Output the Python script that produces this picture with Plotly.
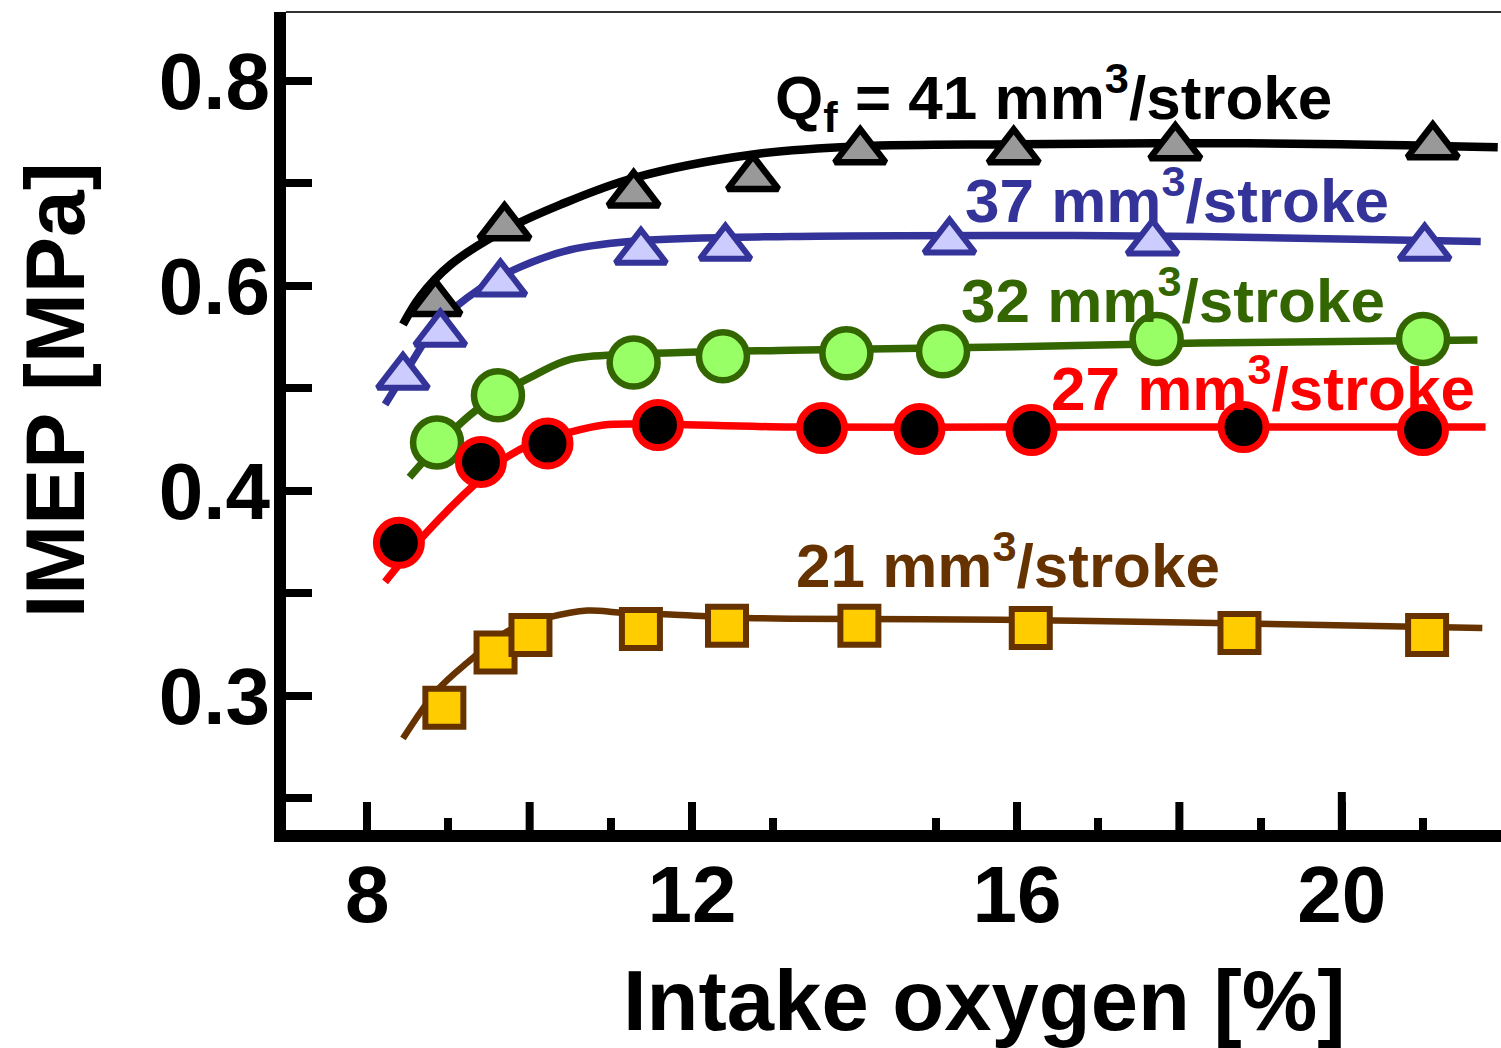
import plotly.graph_objects as go

# Measured IMEP versus intake oxygen for five fuel quantities
o2_41 = [8.84, 9.69, 11.28, 12.75, 14.07, 15.96, 17.95, 21.12]
imep_41 = [0.583, 0.657, 0.689, 0.705, 0.731, 0.731, 0.735, 0.736]

o2_37 = [8.44, 8.90, 9.64, 11.37, 12.41, 15.17, 17.67, 21.02]
imep_37 = [0.511, 0.553, 0.602, 0.633, 0.637, 0.643, 0.642, 0.637]

o2_32 = [8.86, 9.61, 11.28, 12.38, 13.90, 15.09, 17.72, 21.00]
imep_32 = [0.447, 0.493, 0.525, 0.531, 0.534, 0.536, 0.548, 0.548]

o2_27 = [8.39, 9.40, 10.22, 11.58, 13.60, 14.80, 16.18, 18.79, 21.00]
imep_27 = [0.349, 0.428, 0.446, 0.464, 0.461, 0.460, 0.459, 0.462, 0.459]

o2_21 = [8.95, 9.58, 10.01, 11.37, 12.43, 14.06, 16.17, 18.74, 21.05]
imep_21 = [0.188, 0.242, 0.259, 0.265, 0.268, 0.268, 0.266, 0.261, 0.259]

# Smoothed trend curves drawn through each data set
fit_x_41 = [8.44, 8.65, 9.02, 9.69, 10.38, 11.28, 12.75, 14.07, 15.96, 17.95, 19.98, 21.92]
fit_y_41 = [0.562, 0.589, 0.620, 0.654, 0.679, 0.705, 0.728, 0.736, 0.738, 0.739, 0.738, 0.735]

fit_x_37 = [8.22, 8.53, 8.86, 9.39, 9.88, 10.50, 11.37, 13.21, 15.80, 18.26, 21.71]
fit_y_37 = [0.484, 0.523, 0.562, 0.597, 0.618, 0.635, 0.644, 0.648, 0.649, 0.648, 0.643]

fit_x_32 = [8.52, 8.86, 9.27, 9.61, 10.07, 10.50, 11.28, 13.21, 15.80, 18.26, 21.67]
fit_y_32 = [0.413, 0.443, 0.474, 0.493, 0.513, 0.528, 0.533, 0.537, 0.540, 0.544, 0.547]

fit_x_27 = [8.22, 8.65, 9.02, 9.35, 9.67, 10.01, 10.50, 10.91, 11.36, 13.21, 15.80, 18.26, 21.77]
fit_y_27 = [0.311, 0.352, 0.383, 0.408, 0.430, 0.445, 0.457, 0.464, 0.465, 0.462, 0.462, 0.462, 0.462]

fit_x_21 = [8.44, 8.86, 9.23, 9.76, 10.22, 10.71, 11.12, 11.73, 12.56, 13.21, 15.80, 18.26, 21.73]
fit_y_21 = [0.158, 0.205, 0.232, 0.264, 0.276, 0.283, 0.281, 0.279, 0.276, 0.275, 0.274, 0.271, 0.266]

# Axis ticks
x_labelled = [8, 12, 16, 20]
x_long_unlabelled = [10, 18]
x_minor = [9, 11, 13, 15, 17, 19, 21]
y_labelled = [0.2, 0.4, 0.6, 0.8]
y_label_text = ["0.3", "0.4", "0.6", "0.8"]
y_minor = [0.1, 0.3, 0.5, 0.7]

FONT = "Liberation Sans, Arial, sans-serif"
PLOT_H = 818  # plot area height in px, used for tick-length shapes

series = [
    # x, y, fit x, fit y, symbol, size, fill, edge, edge width, line width
    (o2_41, imep_41, fit_x_41, fit_y_41, "triangle-up", 44, "#999999", "#000000", 6.5, 8.5),
    (o2_37, imep_37, fit_x_37, fit_y_37, "triangle-up", 44, "#CCCCFF", "#333399", 6, 7.5),
    (o2_32, imep_32, fit_x_32, fit_y_32, "circle", 48, "#99FF66", "#336600", 6.5, 7.5),
    (o2_27, imep_27, fit_x_27, fit_y_27, "circle", 45, "#000000", "#FF0000", 7, 7.5),
    (o2_21, imep_21, fit_x_21, fit_y_21, "square", 38, "#FFCC00", "#663300", 6, 6.5),
]

fig = go.Figure()
for xs, ys, fx, fy, sym, size, fill, edge, ew, lw in series:
    fig.add_trace(go.Scatter(
        x=fx, y=fy, mode="lines",
        line=dict(color=edge, width=lw, shape="spline", smoothing=1.0),
        showlegend=False, hoverinfo="skip",
    ))
for xs, ys, fx, fy, sym, size, fill, edge, ew, lw in series:
    fig.add_trace(go.Scatter(
        x=xs, y=ys, mode="markers",
        marker=dict(symbol=sym, size=size, color=fill,
                    line=dict(color=edge, width=ew)),
        showlegend=False,
    ))

labels = [
    ("Q<sub>f</sub> = 41 mm<sup>3</sup>/stroke", 13.0, 0.784, "#000000"),
    ("37 mm<sup>3</sup>/stroke", 15.34, 0.687, "#333399"),
    ("32 mm<sup>3</sup>/stroke", 15.29, 0.590, "#336600"),
    ("27 mm<sup>3</sup>/stroke", 16.39, 0.504, "#FF0000"),
    ("21 mm<sup>3</sup>/stroke", 13.26, 0.331, "#663300"),
]
for text, x, y, color in labels:
    fig.add_annotation(
        x=x, y=y, xref="x", yref="y", text=text, showarrow=False,
        xanchor="left", yanchor="middle",
        font=dict(family=FONT, size=62, color=color, weight="bold"),
    )

# Axis titles
fig.add_annotation(
    x=0.575, y=-0.208, xref="paper", yref="paper", text="Intake oxygen [%]",
    showarrow=False, xanchor="center", yanchor="middle",
    font=dict(family=FONT, size=85, color="#000000", weight="bold"),
)
fig.add_annotation(
    x=-0.19, y=0.538, xref="paper", yref="paper", text="IMEP [MPa]",
    showarrow=False, xanchor="center", yanchor="middle", textangle=-90,
    font=dict(family=FONT, size=84, color="#000000", weight="bold"),
)

# Thin frame line along the top
fig.add_shape(type="line", xref="paper", yref="paper", x0=0, x1=1, y0=1, y1=1,
              line=dict(color="#333333", width=2))
# Long unlabelled ticks, and the taller tick at 20
for xv in x_long_unlabelled:
    fig.add_shape(type="line", xref="x", yref="paper", x0=xv, x1=xv,
                  y0=0, y1=28 / PLOT_H, line=dict(color="#000000", width=8))
fig.add_shape(type="line", xref="x", yref="paper", x0=20, x1=20,
              y0=0, y1=38 / PLOT_H, line=dict(color="#000000", width=8))

fig.update_xaxes(
    range=[7.0, 21.96], showgrid=False, zeroline=False,
    showline=True, linecolor="#000000", linewidth=12,
    tickmode="array", tickvals=x_labelled, ticktext=[str(v) for v in x_labelled],
    ticks="inside", ticklen=28, tickwidth=8, tickcolor="#000000",
    ticklabelstandoff=-16,
    tickfont=dict(family=FONT, size=80, color="#000000", weight="bold"),
    minor=dict(tickmode="array", tickvals=x_minor, ticks="inside",
               ticklen=12, tickwidth=8, tickcolor="#000000", showgrid=False),
)
fig.update_yaxes(
    range=[0.0688, 0.867], showgrid=False, zeroline=False,
    showline=True, linecolor="#000000", linewidth=12,
    tickmode="array", tickvals=y_labelled, ticktext=y_label_text,
    ticks="inside", ticklen=26, tickwidth=8, tickcolor="#000000",
    ticklabelstandoff=-12,
    tickfont=dict(family=FONT, size=80, color="#000000", weight="bold"),
    minor=dict(tickmode="array", tickvals=y_minor, ticks="inside",
               ticklen=26, tickwidth=8, tickcolor="#000000", showgrid=False),
)

fig.update_layout(
    width=1501, height=1048,
    margin=dict(l=286, r=0, t=12, b=218),
    plot_bgcolor="white", paper_bgcolor="white",
)

fig.write_html("out.html")
